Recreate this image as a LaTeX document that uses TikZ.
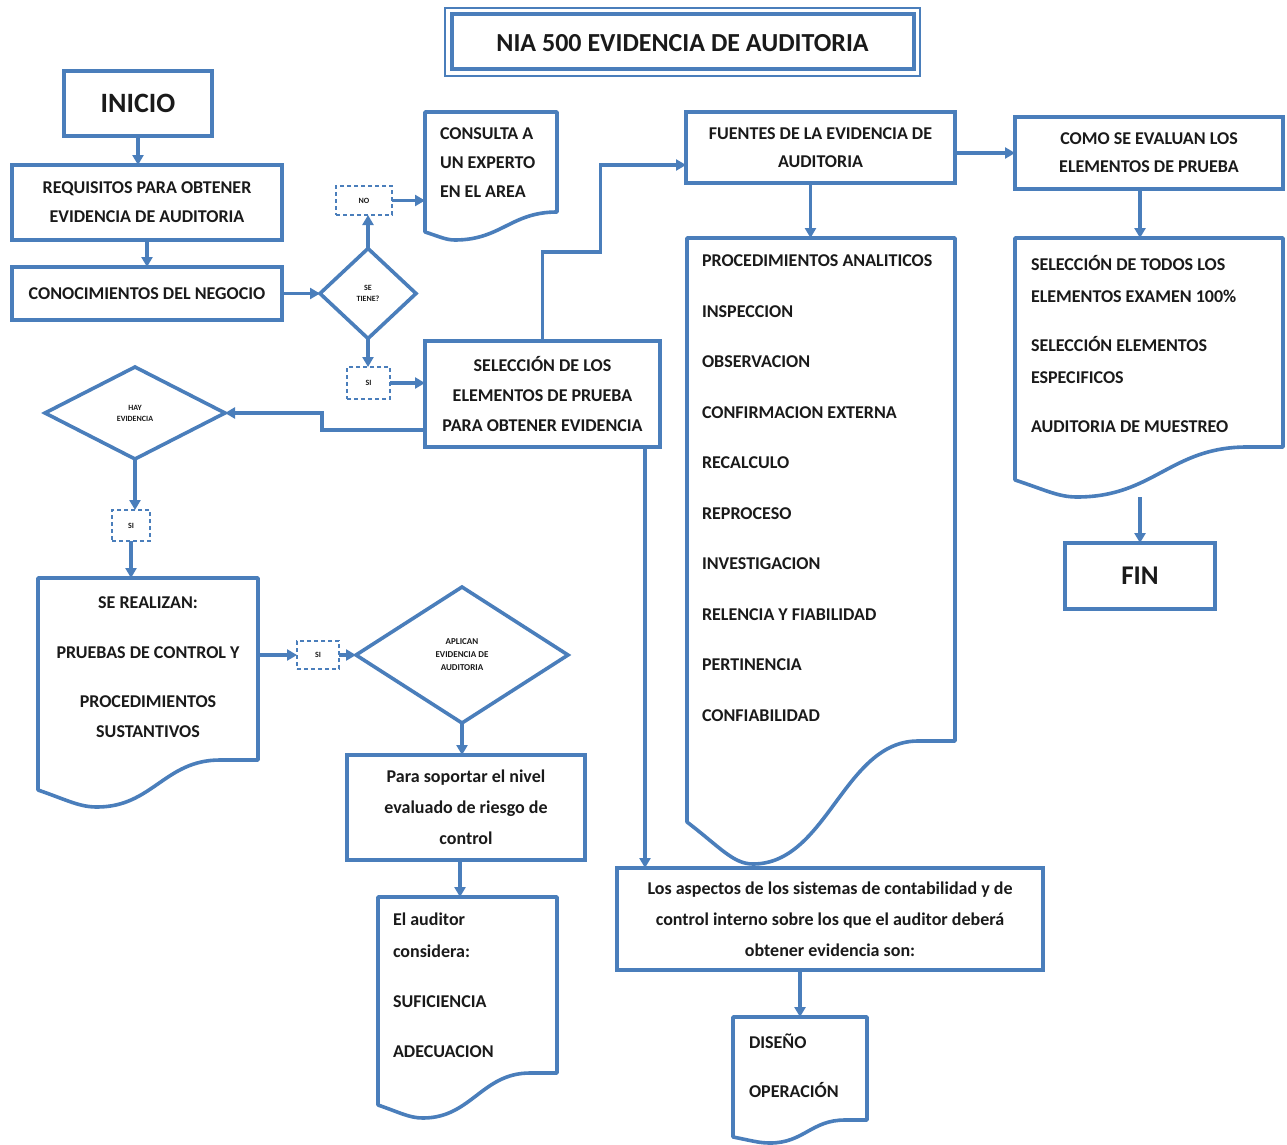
\documentclass[tikz,border=0pt]{standalone}
\usepackage{fontspec}
\setmainfont{Carlito}
\usetikzlibrary{shapes.geometric,arrows.meta,calc}
\definecolor{ln}{HTML}{4A7EBB}
\definecolor{tx}{HTML}{1A1A1A}
\newcommand\wdoc[6]{%
 \draw[docline] (#1.south east) -- (#1.north east) -- (#1.north west) -- ($(#1.south west)+(0,#2)$)
  .. controls +({0.5*#3},{0.6*(#4-#2)}) and +({-0.3*#3},0) .. ($(#1.south west)+(#3,#4)$) coordinate (#1-min)
  .. controls +({0.45*#6},0) and +({-0.45*#6},0) .. ($(#1.south east)+(-#5,0)$) -- cycle;}
\begin{document}
\begin{tikzpicture}[x=1pt,y=-1pt,
  every node/.style={inner sep=0pt, outer sep=0pt, text=tx, font=\bfseries\fontsize{18}{30}\selectfont},
  boxnode/.style={draw=ln, line width=3.6pt, rectangle, align=center},
  docnode/.style={rectangle, draw=none},
  decision/.style={draw=ln, line width=3.6pt, diamond, align=center, font=\bfseries\fontsize{8}{11}\selectfont},
  flagbox/.style={draw=ln, line width=1.5pt, dash pattern=on 4pt off 3pt, font=\bfseries\fontsize{8}{9}\selectfont},
  docline/.style={draw=ln, line width=3.6pt, line join=round},
  arr/.style={draw=ln, line width=3.2pt, -{Triangle[length=10pt,width=11pt]}},
]
\fill[white] (0,0) rectangle (1287,1145);
\useasboundingbox (0,0) rectangle (1287,1145);

% title
\node[draw=ln, line width=1.8pt, minimum width=475, minimum height=68] (title) at (682.5,42) {};
\draw[ln, line width=4pt] ($(title.north west)+(6.5,6.5)$) rectangle ($(title.south east)+(-6.5,-6.5)$);
\node[font=\bfseries\fontsize{26}{30}\selectfont] (titletxt) at (682.5,43) {NIA 500 EVIDENCIA DE AUDITORIA};

% left column
\node[boxnode, minimum width=148, minimum height=65, font=\bfseries\fontsize{28}{30}\selectfont] (inicio) at (138,103.5) {INICIO};
\node[boxnode, minimum width=270, minimum height=75, font=\bfseries\fontsize{18}{29}\selectfont] (req) at (147,202.5) {REQUISITOS PARA OBTENER\\EVIDENCIA DE AUDITORIA};
\node[boxnode, minimum width=270, minimum height=53] (conoc) at (147,293.5) {CONOCIMIENTOS DEL NEGOCIO};
\node[decision, minimum width=96, minimum height=90] (tiene) at (368,293.5) {SE\\TIENE?};
\node[flagbox, minimum width=56, minimum height=29] (no) at (364,200.5) {NO};
\node[flagbox, minimum width=43, minimum height=32] (si1) at (368.5,383) {SI};

% consulta document
\node[docnode, minimum width=132, minimum height=100] (consulta) at (491,162) {};
\wdoc{consulta}{20}{30}{28}{0}{102}
\node[anchor=north west, align=left, font=\bfseries\fontsize{18}{29}\selectfont] (constxt) at (440,128) {CONSULTA A\\UN EXPERTO\\EN EL AREA};

\node[boxnode, minimum width=235, minimum height=106] (sel) at (542.5,394) {SELECCIÓN DE LOS\\ELEMENTOS DE PRUEBA\\PARA OBTENER EVIDENCIA};
\node[decision, minimum width=180, minimum height=92] (hay) at (135,413) {HAY\\EVIDENCIA};
\node[flagbox, minimum width=38, minimum height=31] (si2) at (131,525.5) {SI};

% se realizan document
\node[docnode, minimum width=220, minimum height=182] (realizan) at (148,669) {};
\wdoc{realizan}{30}{59}{47}{38}{123}
\node[anchor=north, align=center] (realtxt) at (148,597) {SE REALIZAN:\\[20pt]PRUEBAS DE CONTROL Y\\[19pt]PROCEDIMIENTOS\\SUSTANTIVOS};

\node[flagbox, minimum width=42, minimum height=28] (si3) at (318,655) {SI};
\node[decision, minimum width=212, minimum height=136, font=\bfseries\fontsize{9}{13}\selectfont] (aplican) at (462,655) {APLICAN\\EVIDENCIA DE\\AUDITORIA};
\node[boxnode, minimum width=238, minimum height=105, font=\bfseries\fontsize{18}{31}\selectfont] (soportar) at (466,807.5) {Para soportar el nivel\\evaluado de riesgo de\\control};

% el auditor document
\node[docnode, minimum width=179, minimum height=176] (auditor) at (467.5,985) {};
\wdoc{auditor}{32}{45}{45}{27}{107}
\node[anchor=north west, align=left, font=\bfseries\fontsize{18}{32}\selectfont] (audtxt) at (393,913) {El auditor\\considera:\\[18pt]SUFICIENCIA\\[18pt]ADECUACION};

% center column
\node[boxnode, minimum width=269, minimum height=71, font=\bfseries\fontsize{18}{28}\selectfont] (fuentes) at (820.5,147.5) {FUENTES DE LA EVIDENCIA DE\\AUDITORIA};
\node[docnode, minimum width=268, minimum height=503] (lista) at (821,489.5) {};
\wdoc{lista}{81}{66}{123}{37}{165}
\node[anchor=north west, align=left, font=\bfseries\fontsize{18}{50.5}\selectfont] (listtxt) at (702,255) {PROCEDIMIENTOS ANALITICOS\\INSPECCION\\OBSERVACION\\CONFIRMACION EXTERNA\\RECALCULO\\REPROCESO\\INVESTIGACION\\RELENCIA Y FIABILIDAD\\PERTINENCIA\\CONFIABILIDAD};
\node[boxnode, minimum width=426, minimum height=102, font=\bfseries\fontsize{18}{31}\selectfont] (aspectos) at (830,919) {Los aspectos de los sistemas de contabilidad y de\\control interno sobre los que el auditor deberá\\obtener evidencia son:};
\node[docnode, minimum width=134, minimum height=103] (diseno) at (800,1068.5) {};
\wdoc{diseno}{17}{37}{23}{22}{75}
\node[anchor=north west, align=left, font=\bfseries\fontsize{18}{49}\selectfont] (distxt) at (749,1034) {DISEÑO\\OPERACIÓN};

% right column
\node[boxnode, minimum width=268, minimum height=72, font=\bfseries\fontsize{18}{28}\selectfont] (como) at (1149,153) {COMO SE EVALUAN LOS\\ELEMENTOS DE PRUEBA};
\node[docnode, minimum width=268, minimum height=209] (selec) at (1149,342.5) {};
\wdoc{selec}{33}{62}{50}{36}{170}
\node[anchor=north west, align=left, font=\bfseries\fontsize{18}{32}\selectfont] (selectxt) at (1031,255) {SELECCIÓN DE TODOS LOS\\ELEMENTOS EXAMEN 100\%\\[17pt]SELECCIÓN ELEMENTOS\\ESPECIFICOS\\[17pt]AUDITORIA DE MUESTREO};
\node[boxnode, minimum width=150, minimum height=66, font=\bfseries\fontsize{27}{30}\selectfont] (fin) at (1140,576) {FIN};

% helper coordinates on node borders
\coordinate (selb) at ($(sel.south east)+(-15,0)$);
\coordinate (sopb) at ($(soportar.south)+(-6,0)$);
\coordinate (fueb) at ($(fuentes.south)+(-10,0)$);
\coordinate (comb) at ($(como.south)+(-9,0)$);
\coordinate (fuel) at ($(fuentes.south west)+(0,-18)$);
\coordinate (sell) at ($(sel.south west)+(0,-17)$);

% connectors
\draw[arr] (inicio.south) -- (inicio.south |- req.north);
\draw[arr] (req.south) -- (conoc.north);
\draw[arr] (conoc.east) -- (tiene.west);
\draw[arr] (tiene.north) -- (tiene.north |- no.south);
\draw[arr] (no.east) -- (no.east -| consulta.west);
\draw[arr] (tiene.south) -- (tiene.south |- si1.north);
\draw[arr] (si1.east) -- (si1.east -| sel.west);
\draw[arr] (sel.north) |- ++(58,-89) |- (fuel);
\draw[arr] (sell) -- ++(-103,0) |- (hay.east);
\draw[arr] (selb) -- (selb |- aspectos.north);
\draw[arr] (hay.south) -- (hay.south |- si2.north);
\draw[arr] (si2.south) -- (si2.south |- realizan.north);
\draw[arr] (realizan.east |- si3.west) -- (si3.west);
\draw[arr] (si3.east) -- (aplican.west);
\draw[arr] (aplican.south) -- (aplican.south |- soportar.north);
\draw[arr] (sopb) -- (sopb |- auditor.north);
\draw[arr] (fuentes.east |- como.west) -- (como.west);
\draw[arr] (fueb) -- (fueb |- lista.north);
\draw[arr] (comb) -- (comb |- selec.north);
\draw[arr] (fin.north |- selec-min) -- (fin.north);
\draw[arr] (diseno.north |- aspectos.south) -- (diseno.north);
\end{tikzpicture}
\end{document}
